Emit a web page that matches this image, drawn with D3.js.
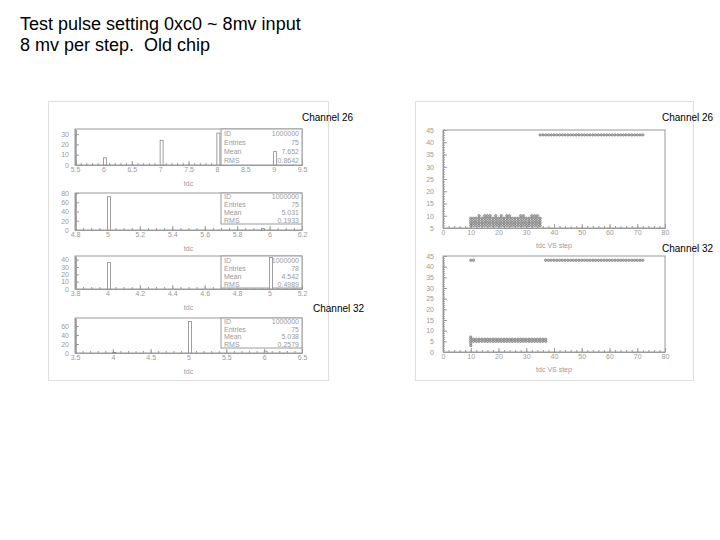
<!DOCTYPE html>
<html><head><meta charset="utf-8">
<script src="https://cdn.jsdelivr.net/npm/d3@7"></script>
<style>body{margin:0;background:#fff}svg{display:block}</style>
</head><body>
<svg id="c" width="720" height="540"></svg>
<script>
// ---------- data ----------
const titleLines = ["Test pulse setting 0xc0 ~ 8mv input", "8 mv per step.  Old chip"];
const channelLabels = ["Channel 26", "Channel 32"];

// histogram 1 (Channel 26)
const h1Values = [6, 7, 8, 9];
const h1Counts = [7, 24, 31, 13];
const h1XTicks = [5.5, 6, 6.5, 7, 7.5, 8, 8.5, 9, 9.5];
const h1YTicks = [0, 10, 20, 30];
const h1Stats = [["ID", "1000000"], ["Entries", "75"], ["Mean", "7.652"], ["RMS", "0.8642"]];

// histogram 2 (Channel 26)
const h2Values = [5, 5.95];
const h2Counts = [72, 3];
const h2XTicks = [4.8, 5, 5.2, 5.4, 5.6, 5.8, 6, 6.2];
const h2YTicks = [0, 20, 40, 60, 80];
const h2Stats = [["ID", "1000000"], ["Entries", "75"], ["Mean", "5.031"], ["RMS", "0.1933"]];

// histogram 3 (Channel 32)
const h3Values = [4, 5];
const h3Counts = [36, 43];
const h3XTicks = [3.8, 4, 4.2, 4.4, 4.6, 4.8, 5, 5.2];
const h3YTicks = [0, 10, 20, 30, 40];
const h3Stats = [["ID", "1000000"], ["Entries", "78"], ["Mean", "4.542"], ["RMS", "0.4989"]];

// histogram 4 (Channel 32)
const h4Values = [4, 5, 6];
const h4Counts = [1, 70, 4];
const h4XTicks = [3.5, 4, 4.5, 5, 5.5, 6, 6.5];
const h4YTicks = [0, 20, 40, 60];
const h4Stats = [["ID", "1000000"], ["Entries", "75"], ["Mean", "5.038"], ["RMS", "0.2579"]];

// scatter "tdc VS step" : runs of [tdc, firstStep, lastStep]
const s1Runs = [[6, 10, 35], [7, 10, 35], [8, 10, 35], [9, 10, 35], [43, 35, 72]];
const s1SparseTdc = 10;
const s1SparseSteps = [13, 15, 16, 17, 19, 21, 23, 24, 28, 29, 32, 33, 34];
const s2Runs = [[5, 10, 37], [6, 10, 37], [43, 10, 11], [43, 37, 72]];
const s2ExtraTdc = [3, 4, 7];
const s2ExtraStep = 10;
const sXTicks = [0, 10, 20, 30, 40, 50, 60, 70, 80];
const s1YTicks = [5, 10, 15, 20, 25, 30, 35, 40, 45];
const s2YTicks = [0, 5, 10, 15, 20, 25, 30, 35, 40, 45];

// ---------- drawing ----------
const svg = d3.select("#c");
const AX = "#9a9a9a", TX = "#9a9a9a";
const FONT = "Arial, 'Liberation Sans', sans-serif";
const fmt = d => String(d);

svg.selectAll("text.title").data(titleLines).enter().append("text")
  .attr("x", 20).attr("y", (d, i) => 30 + i * 21)
  .attr("font-family", FONT).attr("font-size", 18)
  .style("white-space", "pre").attr("xml:space", "preserve")
  .attr("fill", "#000").text(d => d);

// panels
svg.append("rect").attr("x", 48.5).attr("y", 101.5).attr("width", 280).attr("height", 279)
  .attr("fill", "none").attr("stroke", "#dedede");
svg.append("rect").attr("x", 415.5).attr("y", 101.5).attr("width", 278).attr("height", 279)
  .attr("fill", "none").attr("stroke", "#dedede");

function styleAxis(g) {
  g.selectAll("path.domain").attr("stroke", AX);
  g.selectAll(".tick line").attr("stroke", AX);
  g.selectAll(".tick text").attr("fill", TX).attr("font-size", 7).attr("font-family", FONT);
}

function frameAxes(x, y, xTicks, yTicks, xMinor, yMinor, ypad, xtitle, titleOff) {
  const [x0, x1] = x.range(), [y1, y0] = y.range();
  const g = svg.append("g");
  g.append("rect").attr("x", x0).attr("y", y0).attr("width", x1 - x0).attr("height", y1 - y0)
    .attr("fill", "none").attr("stroke", AX).attr("stroke-width", 1);
  const xa = g.append("g").attr("transform", `translate(0,${y1})`)
    .call(d3.axisBottom(x).tickValues(xTicks).tickSizeInner(-4).tickSizeOuter(0).tickPadding(2).tickFormat(fmt));
  styleAxis(xa);
  const xm = g.append("g").attr("transform", `translate(0,${y1})`)
    .call(d3.axisBottom(x).tickValues(xMinor).tickSize(-2).tickFormat(""));
  xm.select("path.domain").remove(); styleAxis(xm);
  const ya = g.append("g").attr("transform", `translate(${x0},0)`)
    .call(d3.axisLeft(y).tickValues(yTicks).tickSizeInner(-4).tickSizeOuter(0).tickPadding(ypad).tickFormat(fmt));
  styleAxis(ya);
  const ym = g.append("g").attr("transform", `translate(${x0},0)`)
    .call(d3.axisLeft(y).tickValues(yMinor).tickSize(-2).tickFormat(""));
  ym.select("path.domain").remove(); styleAxis(ym);
  g.append("text").attr("x", (x0 + x1) / 2).attr("y", y1 + titleOff).attr("text-anchor", "middle")
    .attr("font-size", 7).attr("fill", TX).attr("font-family", FONT).text(xtitle);
  return g;
}

function hist(cfg) {
  const x = d3.scaleLinear().domain([cfg.xTicks[0], cfg.xTicks[cfg.xTicks.length - 1]]).range([75, 302]);
  const y = d3.scaleLinear().domain([0, cfg.yMax]).range([cfg.y1, cfg.y0]);
  const g = frameAxes(x, y, cfg.xTicks, cfg.yTicks,
    d3.range(x.domain()[0], x.domain()[1] + 1e-9, cfg.xMinor),
    d3.range(0, cfg.yMax, cfg.yMinor), 6, "tdc", 21);
  // stats box
  const bx = 221, bh = cfg.boxH;
  g.append("rect").attr("x", bx).attr("y", cfg.y0).attr("width", 302 - bx).attr("height", bh)
    .attr("fill", "#fff").attr("stroke", AX);
  const rh = bh / cfg.stats.length;
  cfg.stats.forEach((s, i) => {
    const ty = cfg.y0 + rh * (i + 0.5) + 2.5;
    g.append("text").attr("x", bx + 3).attr("y", ty).attr("font-size", 7).attr("fill", TX)
      .attr("font-family", FONT).text(s[0]);
    g.append("text").attr("x", 299).attr("y", ty).attr("text-anchor", "end").attr("font-size", 7)
      .attr("fill", TX).attr("font-family", FONT).text(s[1]);
  });
  g.selectAll("rect.bar").data(cfg.values).enter().append("rect").attr("class", "bar")
    .attr("x", d => x(d)).attr("width", 3)
    .attr("y", (d, i) => y(cfg.counts[i])).attr("height", (d, i) => cfg.y1 - y(cfg.counts[i]))
    .attr("fill", "#fff").attr("stroke", "#888").attr("stroke-width", 0.8);
}

hist({values: h1Values, counts: h1Counts, xTicks: h1XTicks, yTicks: h1YTicks, stats: h1Stats,
  yMax: 35, y0: 129, y1: 165, xMinor: 0.1, yMinor: 1, boxH: 36});
hist({values: h2Values, counts: h2Counts, xTicks: h2XTicks, yTicks: h2YTicks, stats: h2Stats,
  yMax: 80, y0: 193, y1: 230, xMinor: 0.05, yMinor: 2, boxH: 31});
hist({values: h3Values, counts: h3Counts, xTicks: h3XTicks, yTicks: h3YTicks, stats: h3Stats,
  yMax: 45, y0: 256, y1: 289, xMinor: 0.05, yMinor: 1, boxH: 32});
hist({values: h4Values, counts: h4Counts, xTicks: h4XTicks, yTicks: h4YTicks, stats: h4Stats,
  yMax: 78, y0: 318, y1: 353, xMinor: 0.1, yMinor: 2, boxH: 30});

function scatter(cfg) {
  const x = d3.scaleLinear().domain([0, 80]).range([443, 665]);
  const y = d3.scaleLinear().domain(cfg.yDom).range([cfg.y1, cfg.y0]);
  const g = frameAxes(x, y, sXTicks, cfg.yTicks, d3.range(0, 80.01, 2),
    d3.range(cfg.yDom[0], 45, 1), 9, "tdc VS step", 20);
  const pts = [];
  cfg.runs.forEach(r => d3.range(r[1], r[2] + 1).forEach(s => pts.push([s, r[0]])));
  cfg.extra.forEach(p => pts.push(p));
  g.selectAll("circle.pt").data(pts).enter().append("circle").attr("class", "pt")
    .attr("cx", d => x(d[0])).attr("cy", d => y(d[1])).attr("r", 1.2)
    .attr("fill", "#bbb").attr("stroke", "#666").attr("stroke-width", 0.6);
}

scatter({runs: s1Runs, extra: s1SparseSteps.map(s => [s, s1SparseTdc]), yDom: [5, 45], yTicks: s1YTicks, y0: 130, y1: 228});
scatter({runs: s2Runs, extra: s2ExtraTdc.map(t => [s2ExtraStep, t]), yDom: [0, 45], yTicks: s2YTicks, y0: 256, y1: 352});

// channel labels
const lab = [[302, 121, 0], [662, 121, 0], [662, 252, 1], [313, 312, 1]];
svg.selectAll("text.ch").data(lab).enter().append("text").attr("class", "ch")
  .attr("x", d => d[0]).attr("y", d => d[1]).attr("font-size", 10)
  .attr("font-family", FONT).attr("fill", "#000")
  .text(d => channelLabels[d[2]]);
</script>
</body></html>
